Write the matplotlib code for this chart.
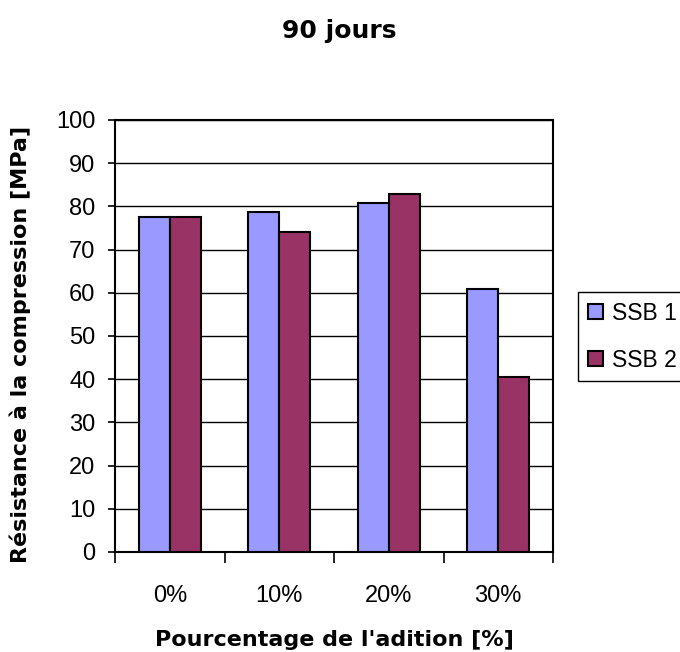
import numpy as np
import matplotlib
matplotlib.use("Agg")
import matplotlib.pyplot as plt

categories = ["0%", "10%", "20%", "30%"]
ssb1 = [77.5, 78.6, 80.7, 60.9]
ssb2 = [77.5, 74.1, 82.9, 40.4]
series_names = ["SSB 1", "SSB 2"]
yticks = [0, 10, 20, 30, 40, 50, 60, 70, 80, 90, 100]

plt.rcParams["font.family"] = ["Liberation Sans", "DejaVu Sans"]

fig = plt.figure(figsize=(6.8, 6.52), dpi=100)
ax = fig.add_axes([115/680, 1 - 552/652, 438/680, 432/652])

x = np.arange(len(categories)) + 0.5
w = 0.285
ax.bar(x - w/2, ssb1, w, color="#9999FF", edgecolor="black", linewidth=1.5, label=series_names[0], zorder=3)
ax.bar(x + w/2, ssb2, w, color="#993366", edgecolor="black", linewidth=1.5, label=series_names[1], zorder=3)

ax.set_xlim(0, len(categories))
ax.set_ylim(0, 100)
ax.set_yticks(yticks)
ax.yaxis.grid(True, color="black", linewidth=1.0, zorder=0)
ax.set_axisbelow(True)

# category labels between the boundary ticks
ax.set_xticks(np.arange(len(categories) + 1))
ax.set_xticklabels([])
ax.set_xticks(x, minor=True)
ax.set_xticklabels(categories, minor=True)
ax.tick_params(axis="x", which="major", direction="out", length=8, width=1.2)
ax.tick_params(axis="x", which="minor", length=0, pad=24, labelsize=17)
ax.tick_params(axis="y", direction="out", length=5, width=1.2, pad=9, labelsize=17)

for s in ax.spines.values():
    s.set_linewidth(1.5)
    s.set_color("black")

bold = dict(family="DejaVu Sans", fontweight="bold")
fig.text(339/680, 1 - 31/652, "90 jours", ha="center", va="center", fontsize=18, **bold)
fig.text(334/680, 1 - 640/652, "Pourcentage de l'adition [%]", ha="center", va="center", fontsize=16, **bold)
fig.text(20/680, 1 - 344/652, "Résistance à la compression [MPa]", ha="center", va="center",
         rotation=90, fontsize=16, **bold)

fig.legend(loc="upper left", bbox_to_anchor=(578/680, 1 - 292/652), borderaxespad=0,
           fontsize=16.5, frameon=True, fancybox=False, edgecolor="black", framealpha=1,
           handlelength=0.65, handleheight=0.65, handletextpad=0.4, labelspacing=1.05,
           borderpad=0.42)

fig.savefig("out.png", dpi=100)
